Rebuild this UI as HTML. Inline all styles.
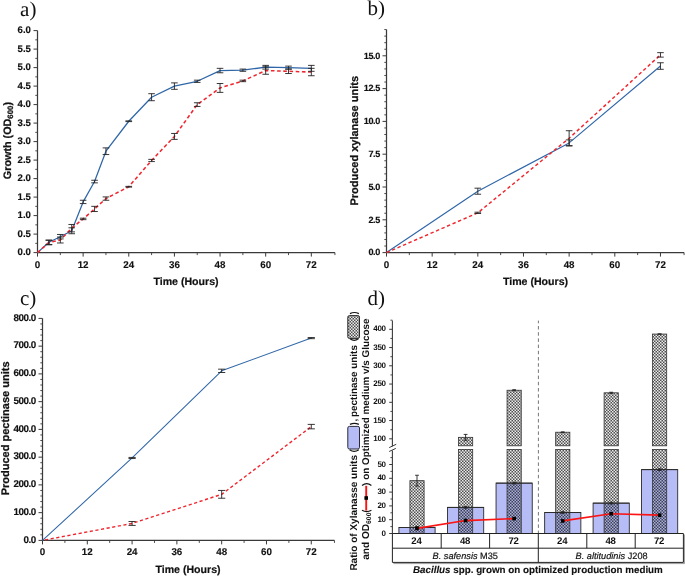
<!DOCTYPE html><html><head><meta charset="utf-8"><style>html,body{margin:0;padding:0;background:#fff;overflow:hidden;}svg{display:block;will-change:transform;text-rendering:geometricPrecision;}</style></head><body>
<svg width="685" height="576" viewBox="0 0 685 576">
<rect width="685" height="576" fill="#fff"/>
<text x="20.10" y="16.00" font-family='"Liberation Serif", serif' font-size="21" font-weight="normal" text-anchor="start" fill="#111" style="" >a)</text>
<text x="367.60" y="14.60" font-family='"Liberation Serif", serif' font-size="21" font-weight="normal" text-anchor="start" fill="#111" style="" >b)</text>
<text x="20.00" y="305.00" font-family='"Liberation Serif", serif' font-size="21" font-weight="normal" text-anchor="start" fill="#111" style="" >c)</text>
<text x="367.40" y="305.00" font-family='"Liberation Serif", serif' font-size="21" font-weight="normal" text-anchor="start" fill="#111" style="" >d)</text>
<line x1="37.50" y1="30.60" x2="37.50" y2="253.20" stroke="#3a3a3a" stroke-width="1.25" />
<line x1="36.90" y1="252.60" x2="334.93" y2="252.60" stroke="#3a3a3a" stroke-width="1.25" />
<line x1="33.50" y1="252.60" x2="37.50" y2="252.60" stroke="#3a3a3a" stroke-width="1.0" />
<text transform="translate(30.90,255.00) scale(1,1.0)" font-family='"Liberation Sans", sans-serif' font-size="9.6" font-weight="bold" text-anchor="end" fill="#111" stroke="#111" stroke-width="0.15" letter-spacing="0">0.0</text>
<line x1="35.30" y1="243.35" x2="37.50" y2="243.35" stroke="#3a3a3a" stroke-width="0.9" />
<line x1="33.50" y1="234.10" x2="37.50" y2="234.10" stroke="#3a3a3a" stroke-width="1.0" />
<text transform="translate(30.90,236.50) scale(1,1.0)" font-family='"Liberation Sans", sans-serif' font-size="9.6" font-weight="bold" text-anchor="end" fill="#111" stroke="#111" stroke-width="0.15" letter-spacing="0">0.5</text>
<line x1="35.30" y1="224.85" x2="37.50" y2="224.85" stroke="#3a3a3a" stroke-width="0.9" />
<line x1="33.50" y1="215.60" x2="37.50" y2="215.60" stroke="#3a3a3a" stroke-width="1.0" />
<text transform="translate(30.90,218.00) scale(1,1.0)" font-family='"Liberation Sans", sans-serif' font-size="9.6" font-weight="bold" text-anchor="end" fill="#111" stroke="#111" stroke-width="0.15" letter-spacing="0">1.0</text>
<line x1="35.30" y1="206.35" x2="37.50" y2="206.35" stroke="#3a3a3a" stroke-width="0.9" />
<line x1="33.50" y1="197.10" x2="37.50" y2="197.10" stroke="#3a3a3a" stroke-width="1.0" />
<text transform="translate(30.90,199.50) scale(1,1.0)" font-family='"Liberation Sans", sans-serif' font-size="9.6" font-weight="bold" text-anchor="end" fill="#111" stroke="#111" stroke-width="0.15" letter-spacing="0">1.5</text>
<line x1="35.30" y1="187.85" x2="37.50" y2="187.85" stroke="#3a3a3a" stroke-width="0.9" />
<line x1="33.50" y1="178.60" x2="37.50" y2="178.60" stroke="#3a3a3a" stroke-width="1.0" />
<text transform="translate(30.90,181.00) scale(1,1.0)" font-family='"Liberation Sans", sans-serif' font-size="9.6" font-weight="bold" text-anchor="end" fill="#111" stroke="#111" stroke-width="0.15" letter-spacing="0">2.0</text>
<line x1="35.30" y1="169.35" x2="37.50" y2="169.35" stroke="#3a3a3a" stroke-width="0.9" />
<line x1="33.50" y1="160.10" x2="37.50" y2="160.10" stroke="#3a3a3a" stroke-width="1.0" />
<text transform="translate(30.90,162.50) scale(1,1.0)" font-family='"Liberation Sans", sans-serif' font-size="9.6" font-weight="bold" text-anchor="end" fill="#111" stroke="#111" stroke-width="0.15" letter-spacing="0">2.5</text>
<line x1="35.30" y1="150.85" x2="37.50" y2="150.85" stroke="#3a3a3a" stroke-width="0.9" />
<line x1="33.50" y1="141.60" x2="37.50" y2="141.60" stroke="#3a3a3a" stroke-width="1.0" />
<text transform="translate(30.90,144.00) scale(1,1.0)" font-family='"Liberation Sans", sans-serif' font-size="9.6" font-weight="bold" text-anchor="end" fill="#111" stroke="#111" stroke-width="0.15" letter-spacing="0">3.0</text>
<line x1="35.30" y1="132.35" x2="37.50" y2="132.35" stroke="#3a3a3a" stroke-width="0.9" />
<line x1="33.50" y1="123.10" x2="37.50" y2="123.10" stroke="#3a3a3a" stroke-width="1.0" />
<text transform="translate(30.90,125.50) scale(1,1.0)" font-family='"Liberation Sans", sans-serif' font-size="9.6" font-weight="bold" text-anchor="end" fill="#111" stroke="#111" stroke-width="0.15" letter-spacing="0">3.5</text>
<line x1="35.30" y1="113.85" x2="37.50" y2="113.85" stroke="#3a3a3a" stroke-width="0.9" />
<line x1="33.50" y1="104.60" x2="37.50" y2="104.60" stroke="#3a3a3a" stroke-width="1.0" />
<text transform="translate(30.90,107.00) scale(1,1.0)" font-family='"Liberation Sans", sans-serif' font-size="9.6" font-weight="bold" text-anchor="end" fill="#111" stroke="#111" stroke-width="0.15" letter-spacing="0">4.0</text>
<line x1="35.30" y1="95.35" x2="37.50" y2="95.35" stroke="#3a3a3a" stroke-width="0.9" />
<line x1="33.50" y1="86.10" x2="37.50" y2="86.10" stroke="#3a3a3a" stroke-width="1.0" />
<text transform="translate(30.90,88.50) scale(1,1.0)" font-family='"Liberation Sans", sans-serif' font-size="9.6" font-weight="bold" text-anchor="end" fill="#111" stroke="#111" stroke-width="0.15" letter-spacing="0">4.5</text>
<line x1="35.30" y1="76.85" x2="37.50" y2="76.85" stroke="#3a3a3a" stroke-width="0.9" />
<line x1="33.50" y1="67.60" x2="37.50" y2="67.60" stroke="#3a3a3a" stroke-width="1.0" />
<text transform="translate(30.90,70.00) scale(1,1.0)" font-family='"Liberation Sans", sans-serif' font-size="9.6" font-weight="bold" text-anchor="end" fill="#111" stroke="#111" stroke-width="0.15" letter-spacing="0">5.0</text>
<line x1="35.30" y1="58.35" x2="37.50" y2="58.35" stroke="#3a3a3a" stroke-width="0.9" />
<line x1="33.50" y1="49.10" x2="37.50" y2="49.10" stroke="#3a3a3a" stroke-width="1.0" />
<text transform="translate(30.90,51.50) scale(1,1.0)" font-family='"Liberation Sans", sans-serif' font-size="9.6" font-weight="bold" text-anchor="end" fill="#111" stroke="#111" stroke-width="0.15" letter-spacing="0">5.5</text>
<line x1="35.30" y1="39.85" x2="37.50" y2="39.85" stroke="#3a3a3a" stroke-width="0.9" />
<line x1="33.50" y1="30.60" x2="37.50" y2="30.60" stroke="#3a3a3a" stroke-width="1.0" />
<text transform="translate(30.90,33.00) scale(1,1.0)" font-family='"Liberation Sans", sans-serif' font-size="9.6" font-weight="bold" text-anchor="end" fill="#111" stroke="#111" stroke-width="0.15" letter-spacing="0">6.0</text>
<line x1="37.50" y1="252.60" x2="37.50" y2="256.60" stroke="#3a3a3a" stroke-width="1.0" />
<text x="37.50" y="267.60" font-family='"Liberation Sans", sans-serif' font-size="9.8" font-weight="bold" text-anchor="middle" fill="#111" style="" stroke="#111" stroke-width="0.12">0</text>
<line x1="60.32" y1="252.60" x2="60.32" y2="255.10" stroke="#3a3a3a" stroke-width="0.9" />
<line x1="83.14" y1="252.60" x2="83.14" y2="256.60" stroke="#3a3a3a" stroke-width="1.0" />
<text x="83.14" y="267.60" font-family='"Liberation Sans", sans-serif' font-size="9.8" font-weight="bold" text-anchor="middle" fill="#111" style="" stroke="#111" stroke-width="0.12">12</text>
<line x1="105.95" y1="252.60" x2="105.95" y2="255.10" stroke="#3a3a3a" stroke-width="0.9" />
<line x1="128.77" y1="252.60" x2="128.77" y2="256.60" stroke="#3a3a3a" stroke-width="1.0" />
<text x="128.77" y="267.60" font-family='"Liberation Sans", sans-serif' font-size="9.8" font-weight="bold" text-anchor="middle" fill="#111" style="" stroke="#111" stroke-width="0.12">24</text>
<line x1="151.59" y1="252.60" x2="151.59" y2="255.10" stroke="#3a3a3a" stroke-width="0.9" />
<line x1="174.41" y1="252.60" x2="174.41" y2="256.60" stroke="#3a3a3a" stroke-width="1.0" />
<text x="174.41" y="267.60" font-family='"Liberation Sans", sans-serif' font-size="9.8" font-weight="bold" text-anchor="middle" fill="#111" style="" stroke="#111" stroke-width="0.12">36</text>
<line x1="197.23" y1="252.60" x2="197.23" y2="255.10" stroke="#3a3a3a" stroke-width="0.9" />
<line x1="220.04" y1="252.60" x2="220.04" y2="256.60" stroke="#3a3a3a" stroke-width="1.0" />
<text x="220.04" y="267.60" font-family='"Liberation Sans", sans-serif' font-size="9.8" font-weight="bold" text-anchor="middle" fill="#111" style="" stroke="#111" stroke-width="0.12">48</text>
<line x1="242.86" y1="252.60" x2="242.86" y2="255.10" stroke="#3a3a3a" stroke-width="0.9" />
<line x1="265.68" y1="252.60" x2="265.68" y2="256.60" stroke="#3a3a3a" stroke-width="1.0" />
<text x="265.68" y="267.60" font-family='"Liberation Sans", sans-serif' font-size="9.8" font-weight="bold" text-anchor="middle" fill="#111" style="" stroke="#111" stroke-width="0.12">60</text>
<line x1="288.50" y1="252.60" x2="288.50" y2="255.10" stroke="#3a3a3a" stroke-width="0.9" />
<line x1="311.32" y1="252.60" x2="311.32" y2="256.60" stroke="#3a3a3a" stroke-width="1.0" />
<text x="311.32" y="267.60" font-family='"Liberation Sans", sans-serif' font-size="9.8" font-weight="bold" text-anchor="middle" fill="#111" style="" stroke="#111" stroke-width="0.12">72</text>
<line x1="334.93" y1="252.60" x2="334.93" y2="255.10" stroke="#3a3a3a" stroke-width="0.9" />
<text x="186.00" y="285.00" font-family='"Liberation Sans", sans-serif' font-size="10.6" font-weight="bold" text-anchor="middle" fill="#111" style="" stroke="#111" stroke-width="0.2">Time (Hours)</text>
<polyline points="37.50,252.60 48.91,242.24 60.32,236.69 71.73,230.77 83.14,201.91 94.55,181.56 105.95,151.22 128.77,121.25 151.59,97.20 174.41,86.10 197.23,81.29 220.04,70.56 242.86,70.19 265.68,67.23 288.50,67.60 311.32,68.34" fill="none" stroke="#2f66a8" stroke-width="1.25" stroke-linejoin="round"/>
<polyline points="37.50,252.60 48.91,242.61 60.32,240.02 71.73,228.18 83.14,218.93 94.55,208.94 105.95,198.58 128.77,186.74 151.59,160.47 174.41,136.42 197.23,104.60 220.04,87.95 242.86,80.92 265.68,70.56 288.50,71.30 311.32,72.04" fill="none" stroke="#f0262e" stroke-width="1.55" stroke-linejoin="round" stroke-dasharray="3.6 2.6" stroke-dashoffset="0"/>
<path d="M45.61,240.39H52.21M48.91,240.39V244.83M45.61,244.83H52.21" stroke="#222" stroke-width="0.9" fill="none"/>
<path d="M57.02,237.06H63.62M60.32,237.06V242.98M57.02,242.98H63.62" stroke="#222" stroke-width="0.9" fill="none"/>
<path d="M68.43,224.48H75.03M71.73,224.48V231.88M68.43,231.88H75.03" stroke="#222" stroke-width="0.9" fill="none"/>
<path d="M79.84,218.19H86.44M83.14,218.19V219.67M79.84,219.67H86.44" stroke="#222" stroke-width="0.9" fill="none"/>
<path d="M91.25,206.35H97.84M94.55,206.35V211.53M91.25,211.53H97.84" stroke="#222" stroke-width="0.9" fill="none"/>
<path d="M102.65,196.91H109.25M105.95,196.91V200.25M102.65,200.25H109.25" stroke="#222" stroke-width="0.9" fill="none"/>
<path d="M125.47,186.37H132.07M128.77,186.37V187.11M125.47,187.11H132.07" stroke="#222" stroke-width="0.9" fill="none"/>
<path d="M148.29,159.36H154.89M151.59,159.36V161.58M148.29,161.58H154.89" stroke="#222" stroke-width="0.9" fill="none"/>
<path d="M171.11,133.46H177.71M174.41,133.46V139.38M171.11,139.38H177.71" stroke="#222" stroke-width="0.9" fill="none"/>
<path d="M193.93,102.75H200.53M197.23,102.75V106.45M193.93,106.45H200.53" stroke="#222" stroke-width="0.9" fill="none"/>
<path d="M216.74,83.51H223.34M220.04,83.51V92.39M216.74,92.39H223.34" stroke="#222" stroke-width="0.9" fill="none"/>
<path d="M239.56,80.18H246.16M242.86,80.18V81.66M239.56,81.66H246.16" stroke="#222" stroke-width="0.9" fill="none"/>
<path d="M262.38,66.86H268.98M265.68,66.86V74.26M262.38,74.26H268.98" stroke="#222" stroke-width="0.9" fill="none"/>
<path d="M285.20,69.08H291.80M288.50,69.08V73.52M285.20,73.52H291.80" stroke="#222" stroke-width="0.9" fill="none"/>
<path d="M308.02,68.34H314.62M311.32,68.34V75.74M308.02,75.74H314.62" stroke="#222" stroke-width="0.9" fill="none"/>
<path d="M45.61,240.02H52.21M48.91,240.02V244.46M45.61,244.46H52.21" stroke="#222" stroke-width="0.9" fill="none"/>
<path d="M57.02,234.47H63.62M60.32,234.47V238.91M57.02,238.91H63.62" stroke="#222" stroke-width="0.9" fill="none"/>
<path d="M68.43,227.81H75.03M71.73,227.81V233.73M68.43,233.73H75.03" stroke="#222" stroke-width="0.9" fill="none"/>
<path d="M79.84,200.25H86.44M83.14,200.25V203.57M79.84,203.57H86.44" stroke="#222" stroke-width="0.9" fill="none"/>
<path d="M91.25,180.26H97.84M94.55,180.26V182.85M91.25,182.85H97.84" stroke="#222" stroke-width="0.9" fill="none"/>
<path d="M102.65,147.89H109.25M105.95,147.89V154.55M102.65,154.55H109.25" stroke="#222" stroke-width="0.9" fill="none"/>
<path d="M125.47,120.88H132.07M128.77,120.88V121.62M125.47,121.62H132.07" stroke="#222" stroke-width="0.9" fill="none"/>
<path d="M148.29,93.69H154.89M151.59,93.69V100.71M148.29,100.71H154.89" stroke="#222" stroke-width="0.9" fill="none"/>
<path d="M171.11,82.88H177.71M174.41,82.88V89.32M171.11,89.32H177.71" stroke="#222" stroke-width="0.9" fill="none"/>
<path d="M193.93,80.18H200.53M197.23,80.18V82.40M193.93,82.40H200.53" stroke="#222" stroke-width="0.9" fill="none"/>
<path d="M216.74,68.34H223.34M220.04,68.34V72.78M216.74,72.78H223.34" stroke="#222" stroke-width="0.9" fill="none"/>
<path d="M239.56,69.08H246.16M242.86,69.08V71.30M239.56,71.30H246.16" stroke="#222" stroke-width="0.9" fill="none"/>
<path d="M262.38,65.38H268.98M265.68,65.38V69.08M262.38,69.08H268.98" stroke="#222" stroke-width="0.9" fill="none"/>
<path d="M285.20,66.12H291.80M288.50,66.12V69.08M285.20,69.08H291.80" stroke="#222" stroke-width="0.9" fill="none"/>
<path d="M308.02,65.38H314.62M311.32,65.38V71.30M308.02,71.30H314.62" stroke="#222" stroke-width="0.9" fill="none"/>
<text transform="translate(11.0,140.6) rotate(-90)" font-family='"Liberation Sans", sans-serif' font-size="10.8" font-weight="bold" text-anchor="middle" fill="#111" stroke="#111" stroke-width="0.25">Growth (OD<tspan font-size="7.8" dy="2.4">600</tspan><tspan dy="-2.5">)</tspan></text>
<line x1="386.50" y1="29.56" x2="386.50" y2="253.20" stroke="#3a3a3a" stroke-width="1.25" />
<line x1="385.90" y1="252.60" x2="684.09" y2="252.60" stroke="#3a3a3a" stroke-width="1.25" />
<line x1="382.50" y1="252.60" x2="386.50" y2="252.60" stroke="#3a3a3a" stroke-width="1.0" />
<text transform="translate(380.00,255.30) scale(1,1.0)" font-family='"Liberation Sans", sans-serif' font-size="9.1" font-weight="bold" text-anchor="end" fill="#111" stroke="#111" stroke-width="0.15" letter-spacing="-0.35">0.0</text>
<line x1="384.30" y1="246.04" x2="386.50" y2="246.04" stroke="#3a3a3a" stroke-width="0.9" />
<line x1="384.30" y1="239.48" x2="386.50" y2="239.48" stroke="#3a3a3a" stroke-width="0.9" />
<line x1="384.30" y1="232.92" x2="386.50" y2="232.92" stroke="#3a3a3a" stroke-width="0.9" />
<line x1="384.30" y1="226.36" x2="386.50" y2="226.36" stroke="#3a3a3a" stroke-width="0.9" />
<line x1="382.50" y1="219.80" x2="386.50" y2="219.80" stroke="#3a3a3a" stroke-width="1.0" />
<text transform="translate(380.00,222.50) scale(1,1.0)" font-family='"Liberation Sans", sans-serif' font-size="9.1" font-weight="bold" text-anchor="end" fill="#111" stroke="#111" stroke-width="0.15" letter-spacing="-0.35">2.5</text>
<line x1="384.30" y1="213.24" x2="386.50" y2="213.24" stroke="#3a3a3a" stroke-width="0.9" />
<line x1="384.30" y1="206.68" x2="386.50" y2="206.68" stroke="#3a3a3a" stroke-width="0.9" />
<line x1="384.30" y1="200.12" x2="386.50" y2="200.12" stroke="#3a3a3a" stroke-width="0.9" />
<line x1="384.30" y1="193.56" x2="386.50" y2="193.56" stroke="#3a3a3a" stroke-width="0.9" />
<line x1="382.50" y1="187.00" x2="386.50" y2="187.00" stroke="#3a3a3a" stroke-width="1.0" />
<text transform="translate(380.00,189.70) scale(1,1.0)" font-family='"Liberation Sans", sans-serif' font-size="9.1" font-weight="bold" text-anchor="end" fill="#111" stroke="#111" stroke-width="0.15" letter-spacing="-0.35">5.0</text>
<line x1="384.30" y1="180.44" x2="386.50" y2="180.44" stroke="#3a3a3a" stroke-width="0.9" />
<line x1="384.30" y1="173.88" x2="386.50" y2="173.88" stroke="#3a3a3a" stroke-width="0.9" />
<line x1="384.30" y1="167.32" x2="386.50" y2="167.32" stroke="#3a3a3a" stroke-width="0.9" />
<line x1="384.30" y1="160.76" x2="386.50" y2="160.76" stroke="#3a3a3a" stroke-width="0.9" />
<line x1="382.50" y1="154.20" x2="386.50" y2="154.20" stroke="#3a3a3a" stroke-width="1.0" />
<text transform="translate(380.00,156.90) scale(1,1.0)" font-family='"Liberation Sans", sans-serif' font-size="9.1" font-weight="bold" text-anchor="end" fill="#111" stroke="#111" stroke-width="0.15" letter-spacing="-0.35">7.5</text>
<line x1="384.30" y1="147.64" x2="386.50" y2="147.64" stroke="#3a3a3a" stroke-width="0.9" />
<line x1="384.30" y1="141.08" x2="386.50" y2="141.08" stroke="#3a3a3a" stroke-width="0.9" />
<line x1="384.30" y1="134.52" x2="386.50" y2="134.52" stroke="#3a3a3a" stroke-width="0.9" />
<line x1="384.30" y1="127.96" x2="386.50" y2="127.96" stroke="#3a3a3a" stroke-width="0.9" />
<line x1="382.50" y1="121.40" x2="386.50" y2="121.40" stroke="#3a3a3a" stroke-width="1.0" />
<text transform="translate(380.00,124.10) scale(1,1.0)" font-family='"Liberation Sans", sans-serif' font-size="9.1" font-weight="bold" text-anchor="end" fill="#111" stroke="#111" stroke-width="0.15" letter-spacing="-0.35">10.0</text>
<line x1="384.30" y1="114.84" x2="386.50" y2="114.84" stroke="#3a3a3a" stroke-width="0.9" />
<line x1="384.30" y1="108.28" x2="386.50" y2="108.28" stroke="#3a3a3a" stroke-width="0.9" />
<line x1="384.30" y1="101.72" x2="386.50" y2="101.72" stroke="#3a3a3a" stroke-width="0.9" />
<line x1="384.30" y1="95.16" x2="386.50" y2="95.16" stroke="#3a3a3a" stroke-width="0.9" />
<line x1="382.50" y1="88.60" x2="386.50" y2="88.60" stroke="#3a3a3a" stroke-width="1.0" />
<text transform="translate(380.00,91.30) scale(1,1.0)" font-family='"Liberation Sans", sans-serif' font-size="9.1" font-weight="bold" text-anchor="end" fill="#111" stroke="#111" stroke-width="0.15" letter-spacing="-0.35">12.5</text>
<line x1="384.30" y1="82.04" x2="386.50" y2="82.04" stroke="#3a3a3a" stroke-width="0.9" />
<line x1="384.30" y1="75.48" x2="386.50" y2="75.48" stroke="#3a3a3a" stroke-width="0.9" />
<line x1="384.30" y1="68.92" x2="386.50" y2="68.92" stroke="#3a3a3a" stroke-width="0.9" />
<line x1="384.30" y1="62.36" x2="386.50" y2="62.36" stroke="#3a3a3a" stroke-width="0.9" />
<line x1="382.50" y1="55.80" x2="386.50" y2="55.80" stroke="#3a3a3a" stroke-width="1.0" />
<text transform="translate(380.00,58.50) scale(1,1.0)" font-family='"Liberation Sans", sans-serif' font-size="9.1" font-weight="bold" text-anchor="end" fill="#111" stroke="#111" stroke-width="0.15" letter-spacing="-0.35">15.0</text>
<line x1="384.30" y1="49.24" x2="386.50" y2="49.24" stroke="#3a3a3a" stroke-width="0.9" />
<line x1="384.30" y1="42.68" x2="386.50" y2="42.68" stroke="#3a3a3a" stroke-width="0.9" />
<line x1="384.30" y1="36.12" x2="386.50" y2="36.12" stroke="#3a3a3a" stroke-width="0.9" />
<line x1="384.30" y1="29.56" x2="386.50" y2="29.56" stroke="#3a3a3a" stroke-width="0.9" />
<line x1="386.50" y1="252.60" x2="386.50" y2="256.60" stroke="#3a3a3a" stroke-width="1.0" />
<text x="386.50" y="267.60" font-family='"Liberation Sans", sans-serif' font-size="9.8" font-weight="bold" text-anchor="middle" fill="#111" style="" stroke="#111" stroke-width="0.12">0</text>
<line x1="409.33" y1="252.60" x2="409.33" y2="255.10" stroke="#3a3a3a" stroke-width="0.9" />
<line x1="432.16" y1="252.60" x2="432.16" y2="256.60" stroke="#3a3a3a" stroke-width="1.0" />
<text x="432.16" y="267.60" font-family='"Liberation Sans", sans-serif' font-size="9.8" font-weight="bold" text-anchor="middle" fill="#111" style="" stroke="#111" stroke-width="0.12">12</text>
<line x1="454.99" y1="252.60" x2="454.99" y2="255.10" stroke="#3a3a3a" stroke-width="0.9" />
<line x1="477.82" y1="252.60" x2="477.82" y2="256.60" stroke="#3a3a3a" stroke-width="1.0" />
<text x="477.82" y="267.60" font-family='"Liberation Sans", sans-serif' font-size="9.8" font-weight="bold" text-anchor="middle" fill="#111" style="" stroke="#111" stroke-width="0.12">24</text>
<line x1="500.65" y1="252.60" x2="500.65" y2="255.10" stroke="#3a3a3a" stroke-width="0.9" />
<line x1="523.48" y1="252.60" x2="523.48" y2="256.60" stroke="#3a3a3a" stroke-width="1.0" />
<text x="523.48" y="267.60" font-family='"Liberation Sans", sans-serif' font-size="9.8" font-weight="bold" text-anchor="middle" fill="#111" style="" stroke="#111" stroke-width="0.12">36</text>
<line x1="546.31" y1="252.60" x2="546.31" y2="255.10" stroke="#3a3a3a" stroke-width="0.9" />
<line x1="569.14" y1="252.60" x2="569.14" y2="256.60" stroke="#3a3a3a" stroke-width="1.0" />
<text x="569.14" y="267.60" font-family='"Liberation Sans", sans-serif' font-size="9.8" font-weight="bold" text-anchor="middle" fill="#111" style="" stroke="#111" stroke-width="0.12">48</text>
<line x1="591.97" y1="252.60" x2="591.97" y2="255.10" stroke="#3a3a3a" stroke-width="0.9" />
<line x1="614.80" y1="252.60" x2="614.80" y2="256.60" stroke="#3a3a3a" stroke-width="1.0" />
<text x="614.80" y="267.60" font-family='"Liberation Sans", sans-serif' font-size="9.8" font-weight="bold" text-anchor="middle" fill="#111" style="" stroke="#111" stroke-width="0.12">60</text>
<line x1="637.63" y1="252.60" x2="637.63" y2="255.10" stroke="#3a3a3a" stroke-width="0.9" />
<line x1="660.46" y1="252.60" x2="660.46" y2="256.60" stroke="#3a3a3a" stroke-width="1.0" />
<text x="660.46" y="267.60" font-family='"Liberation Sans", sans-serif' font-size="9.8" font-weight="bold" text-anchor="middle" fill="#111" style="" stroke="#111" stroke-width="0.12">72</text>
<line x1="684.09" y1="252.60" x2="684.09" y2="255.10" stroke="#3a3a3a" stroke-width="0.9" />
<text x="535.50" y="285.00" font-family='"Liberation Sans", sans-serif' font-size="10.6" font-weight="bold" text-anchor="middle" fill="#111" style="" stroke="#111" stroke-width="0.2">Time (Hours)</text>
<polyline points="386.50,252.60 477.82,191.20 569.14,142.92 660.46,66.03" fill="none" stroke="#2f66a8" stroke-width="1.15" stroke-linejoin="round"/>
<polyline points="386.50,252.60 477.82,212.85 569.14,138.19 660.46,54.88" fill="none" stroke="#f0262e" stroke-width="1.45" stroke-linejoin="round" stroke-dasharray="3.4 2.6" stroke-dashoffset="0"/>
<path d="M474.52,212.19H481.12M477.82,212.19V213.50M474.52,213.50H481.12" stroke="#222" stroke-width="0.9" fill="none"/>
<path d="M565.84,130.72H572.44M569.14,130.72V145.67M565.84,145.67H572.44" stroke="#222" stroke-width="0.9" fill="none"/>
<path d="M657.16,52.65H663.76M660.46,52.65V57.11M657.16,57.11H663.76" stroke="#222" stroke-width="0.9" fill="none"/>
<path d="M474.52,188.18H481.12M477.82,188.18V194.22M474.52,194.22H481.12" stroke="#222" stroke-width="0.9" fill="none"/>
<path d="M565.84,139.90H572.44M569.14,139.90V145.93M565.84,145.93H572.44" stroke="#222" stroke-width="0.9" fill="none"/>
<path d="M657.16,62.75H663.76M660.46,62.75V69.31M657.16,69.31H663.76" stroke="#222" stroke-width="0.9" fill="none"/>
<text transform="translate(358.2,140.8) rotate(-90)" font-family='"Liberation Sans", sans-serif' font-size="11.0" font-weight="bold" text-anchor="middle" fill="#111" stroke="#111" stroke-width="0.25">Produced xylanase units</text>
<line x1="42.50" y1="318.40" x2="42.50" y2="541.00" stroke="#3a3a3a" stroke-width="1.25" />
<line x1="41.90" y1="540.40" x2="334.47" y2="540.40" stroke="#3a3a3a" stroke-width="1.25" />
<line x1="38.50" y1="540.40" x2="42.50" y2="540.40" stroke="#3a3a3a" stroke-width="1.0" />
<text transform="translate(35.60,542.60) scale(1,1.0)" font-family='"Liberation Sans", sans-serif' font-size="9.8" font-weight="bold" text-anchor="end" fill="#111" stroke="#111" stroke-width="0.15" letter-spacing="-0.5">0.0</text>
<line x1="40.30" y1="534.85" x2="42.50" y2="534.85" stroke="#3a3a3a" stroke-width="0.9" />
<line x1="40.30" y1="529.30" x2="42.50" y2="529.30" stroke="#3a3a3a" stroke-width="0.9" />
<line x1="40.30" y1="523.75" x2="42.50" y2="523.75" stroke="#3a3a3a" stroke-width="0.9" />
<line x1="40.30" y1="518.20" x2="42.50" y2="518.20" stroke="#3a3a3a" stroke-width="0.9" />
<line x1="38.50" y1="512.65" x2="42.50" y2="512.65" stroke="#3a3a3a" stroke-width="1.0" />
<text transform="translate(35.60,514.85) scale(1,1.0)" font-family='"Liberation Sans", sans-serif' font-size="9.8" font-weight="bold" text-anchor="end" fill="#111" stroke="#111" stroke-width="0.15" letter-spacing="-0.5">100.0</text>
<line x1="40.30" y1="507.10" x2="42.50" y2="507.10" stroke="#3a3a3a" stroke-width="0.9" />
<line x1="40.30" y1="501.55" x2="42.50" y2="501.55" stroke="#3a3a3a" stroke-width="0.9" />
<line x1="40.30" y1="496.00" x2="42.50" y2="496.00" stroke="#3a3a3a" stroke-width="0.9" />
<line x1="40.30" y1="490.45" x2="42.50" y2="490.45" stroke="#3a3a3a" stroke-width="0.9" />
<line x1="38.50" y1="484.90" x2="42.50" y2="484.90" stroke="#3a3a3a" stroke-width="1.0" />
<text transform="translate(35.60,487.10) scale(1,1.0)" font-family='"Liberation Sans", sans-serif' font-size="9.8" font-weight="bold" text-anchor="end" fill="#111" stroke="#111" stroke-width="0.15" letter-spacing="-0.5">200.0</text>
<line x1="40.30" y1="479.35" x2="42.50" y2="479.35" stroke="#3a3a3a" stroke-width="0.9" />
<line x1="40.30" y1="473.80" x2="42.50" y2="473.80" stroke="#3a3a3a" stroke-width="0.9" />
<line x1="40.30" y1="468.25" x2="42.50" y2="468.25" stroke="#3a3a3a" stroke-width="0.9" />
<line x1="40.30" y1="462.70" x2="42.50" y2="462.70" stroke="#3a3a3a" stroke-width="0.9" />
<line x1="38.50" y1="457.15" x2="42.50" y2="457.15" stroke="#3a3a3a" stroke-width="1.0" />
<text transform="translate(35.60,459.35) scale(1,1.0)" font-family='"Liberation Sans", sans-serif' font-size="9.8" font-weight="bold" text-anchor="end" fill="#111" stroke="#111" stroke-width="0.15" letter-spacing="-0.5">300.0</text>
<line x1="40.30" y1="451.60" x2="42.50" y2="451.60" stroke="#3a3a3a" stroke-width="0.9" />
<line x1="40.30" y1="446.05" x2="42.50" y2="446.05" stroke="#3a3a3a" stroke-width="0.9" />
<line x1="40.30" y1="440.50" x2="42.50" y2="440.50" stroke="#3a3a3a" stroke-width="0.9" />
<line x1="40.30" y1="434.95" x2="42.50" y2="434.95" stroke="#3a3a3a" stroke-width="0.9" />
<line x1="38.50" y1="429.40" x2="42.50" y2="429.40" stroke="#3a3a3a" stroke-width="1.0" />
<text transform="translate(35.60,431.60) scale(1,1.0)" font-family='"Liberation Sans", sans-serif' font-size="9.8" font-weight="bold" text-anchor="end" fill="#111" stroke="#111" stroke-width="0.15" letter-spacing="-0.5">400.0</text>
<line x1="40.30" y1="423.85" x2="42.50" y2="423.85" stroke="#3a3a3a" stroke-width="0.9" />
<line x1="40.30" y1="418.30" x2="42.50" y2="418.30" stroke="#3a3a3a" stroke-width="0.9" />
<line x1="40.30" y1="412.75" x2="42.50" y2="412.75" stroke="#3a3a3a" stroke-width="0.9" />
<line x1="40.30" y1="407.20" x2="42.50" y2="407.20" stroke="#3a3a3a" stroke-width="0.9" />
<line x1="38.50" y1="401.65" x2="42.50" y2="401.65" stroke="#3a3a3a" stroke-width="1.0" />
<text transform="translate(35.60,403.85) scale(1,1.0)" font-family='"Liberation Sans", sans-serif' font-size="9.8" font-weight="bold" text-anchor="end" fill="#111" stroke="#111" stroke-width="0.15" letter-spacing="-0.5">500.0</text>
<line x1="40.30" y1="396.10" x2="42.50" y2="396.10" stroke="#3a3a3a" stroke-width="0.9" />
<line x1="40.30" y1="390.55" x2="42.50" y2="390.55" stroke="#3a3a3a" stroke-width="0.9" />
<line x1="40.30" y1="385.00" x2="42.50" y2="385.00" stroke="#3a3a3a" stroke-width="0.9" />
<line x1="40.30" y1="379.45" x2="42.50" y2="379.45" stroke="#3a3a3a" stroke-width="0.9" />
<line x1="38.50" y1="373.90" x2="42.50" y2="373.90" stroke="#3a3a3a" stroke-width="1.0" />
<text transform="translate(35.60,376.10) scale(1,1.0)" font-family='"Liberation Sans", sans-serif' font-size="9.8" font-weight="bold" text-anchor="end" fill="#111" stroke="#111" stroke-width="0.15" letter-spacing="-0.5">600.0</text>
<line x1="40.30" y1="368.35" x2="42.50" y2="368.35" stroke="#3a3a3a" stroke-width="0.9" />
<line x1="40.30" y1="362.80" x2="42.50" y2="362.80" stroke="#3a3a3a" stroke-width="0.9" />
<line x1="40.30" y1="357.25" x2="42.50" y2="357.25" stroke="#3a3a3a" stroke-width="0.9" />
<line x1="40.30" y1="351.70" x2="42.50" y2="351.70" stroke="#3a3a3a" stroke-width="0.9" />
<line x1="38.50" y1="346.15" x2="42.50" y2="346.15" stroke="#3a3a3a" stroke-width="1.0" />
<text transform="translate(35.60,348.35) scale(1,1.0)" font-family='"Liberation Sans", sans-serif' font-size="9.8" font-weight="bold" text-anchor="end" fill="#111" stroke="#111" stroke-width="0.15" letter-spacing="-0.5">700.0</text>
<line x1="40.30" y1="340.60" x2="42.50" y2="340.60" stroke="#3a3a3a" stroke-width="0.9" />
<line x1="40.30" y1="335.05" x2="42.50" y2="335.05" stroke="#3a3a3a" stroke-width="0.9" />
<line x1="40.30" y1="329.50" x2="42.50" y2="329.50" stroke="#3a3a3a" stroke-width="0.9" />
<line x1="40.30" y1="323.95" x2="42.50" y2="323.95" stroke="#3a3a3a" stroke-width="0.9" />
<line x1="38.50" y1="318.40" x2="42.50" y2="318.40" stroke="#3a3a3a" stroke-width="1.0" />
<text transform="translate(35.60,320.60) scale(1,1.0)" font-family='"Liberation Sans", sans-serif' font-size="9.8" font-weight="bold" text-anchor="end" fill="#111" stroke="#111" stroke-width="0.15" letter-spacing="-0.5">800.0</text>
<line x1="42.50" y1="540.40" x2="42.50" y2="544.40" stroke="#3a3a3a" stroke-width="1.0" />
<text x="42.50" y="555.20" font-family='"Liberation Sans", sans-serif' font-size="9.8" font-weight="bold" text-anchor="middle" fill="#111" style="" stroke="#111" stroke-width="0.12">0</text>
<line x1="64.90" y1="540.40" x2="64.90" y2="542.90" stroke="#3a3a3a" stroke-width="0.9" />
<line x1="87.30" y1="540.40" x2="87.30" y2="544.40" stroke="#3a3a3a" stroke-width="1.0" />
<text x="87.30" y="555.20" font-family='"Liberation Sans", sans-serif' font-size="9.8" font-weight="bold" text-anchor="middle" fill="#111" style="" stroke="#111" stroke-width="0.12">12</text>
<line x1="109.69" y1="540.40" x2="109.69" y2="542.90" stroke="#3a3a3a" stroke-width="0.9" />
<line x1="132.09" y1="540.40" x2="132.09" y2="544.40" stroke="#3a3a3a" stroke-width="1.0" />
<text x="132.09" y="555.20" font-family='"Liberation Sans", sans-serif' font-size="9.8" font-weight="bold" text-anchor="middle" fill="#111" style="" stroke="#111" stroke-width="0.12">24</text>
<line x1="154.49" y1="540.40" x2="154.49" y2="542.90" stroke="#3a3a3a" stroke-width="0.9" />
<line x1="176.89" y1="540.40" x2="176.89" y2="544.40" stroke="#3a3a3a" stroke-width="1.0" />
<text x="176.89" y="555.20" font-family='"Liberation Sans", sans-serif' font-size="9.8" font-weight="bold" text-anchor="middle" fill="#111" style="" stroke="#111" stroke-width="0.12">36</text>
<line x1="199.29" y1="540.40" x2="199.29" y2="542.90" stroke="#3a3a3a" stroke-width="0.9" />
<line x1="221.68" y1="540.40" x2="221.68" y2="544.40" stroke="#3a3a3a" stroke-width="1.0" />
<text x="221.68" y="555.20" font-family='"Liberation Sans", sans-serif' font-size="9.8" font-weight="bold" text-anchor="middle" fill="#111" style="" stroke="#111" stroke-width="0.12">48</text>
<line x1="244.08" y1="540.40" x2="244.08" y2="542.90" stroke="#3a3a3a" stroke-width="0.9" />
<line x1="266.48" y1="540.40" x2="266.48" y2="544.40" stroke="#3a3a3a" stroke-width="1.0" />
<text x="266.48" y="555.20" font-family='"Liberation Sans", sans-serif' font-size="9.8" font-weight="bold" text-anchor="middle" fill="#111" style="" stroke="#111" stroke-width="0.12">60</text>
<line x1="288.88" y1="540.40" x2="288.88" y2="542.90" stroke="#3a3a3a" stroke-width="0.9" />
<line x1="311.28" y1="540.40" x2="311.28" y2="544.40" stroke="#3a3a3a" stroke-width="1.0" />
<text x="311.28" y="555.20" font-family='"Liberation Sans", sans-serif' font-size="9.8" font-weight="bold" text-anchor="middle" fill="#111" style="" stroke="#111" stroke-width="0.12">72</text>
<line x1="334.47" y1="540.40" x2="334.47" y2="542.90" stroke="#3a3a3a" stroke-width="0.9" />
<text x="188.00" y="573.00" font-family='"Liberation Sans", sans-serif' font-size="10.6" font-weight="bold" text-anchor="middle" fill="#111" style="" stroke="#111" stroke-width="0.2">Time (Hours)</text>
<polyline points="42.50,540.40 132.09,457.98 221.68,370.85 311.28,338.10" fill="none" stroke="#2f66a8" stroke-width="1.05" stroke-linejoin="round"/>
<polyline points="42.50,540.40 132.09,523.47 221.68,494.33 311.28,426.62" fill="none" stroke="#f0262e" stroke-width="1.4" stroke-linejoin="round" stroke-dasharray="3.2 2.5" stroke-dashoffset="3.2"/>
<path d="M128.49,521.53H135.69M132.09,521.53V525.41M128.49,525.41H135.69" stroke="#222" stroke-width="0.9" fill="none"/>
<path d="M218.08,490.45H225.28M221.68,490.45V498.22M218.08,498.22H225.28" stroke="#222" stroke-width="0.9" fill="none"/>
<path d="M307.68,424.40H314.88M311.28,424.40V428.84M307.68,428.84H314.88" stroke="#222" stroke-width="0.9" fill="none"/>
<path d="M128.49,457.43H135.69M132.09,457.43V458.54M128.49,458.54H135.69" stroke="#222" stroke-width="0.9" fill="none"/>
<path d="M218.08,369.18H225.28M221.68,369.18V372.51M218.08,372.51H225.28" stroke="#222" stroke-width="0.9" fill="none"/>
<path d="M307.68,337.55H314.88M311.28,337.55V338.66M307.68,338.66H314.88" stroke="#222" stroke-width="0.9" fill="none"/>
<text transform="translate(9.2,428.4) rotate(-90)" font-family='"Liberation Sans", sans-serif' font-size="11.0" font-weight="bold" text-anchor="middle" fill="#111" stroke="#111" stroke-width="0.25">Produced pectinase units</text>
<defs><pattern id="chk" width="3" height="3" patternUnits="userSpaceOnUse"><rect x="1.5" y="0" width="1.5" height="1.5" fill="#222" fill-opacity="0.76"/><rect x="0" y="1.5" width="1.5" height="1.5" fill="#222" fill-opacity="0.76"/><rect x="0" y="0" width="3" height="3" fill="#000" fill-opacity="0.08"/></pattern></defs>
<line x1="538.40" y1="320.60" x2="538.40" y2="533.50" stroke="#777" stroke-width="1.0" stroke-dasharray="3.5 2.7" stroke-dashoffset="0.8"/>
<rect x="398.90" y="527.50" width="36.20" height="6.00" fill="#b6bcf6" stroke="#2a2a2a" stroke-width="0.9"/>
<rect x="447.50" y="507.42" width="36.20" height="26.08" fill="#b6bcf6" stroke="#2a2a2a" stroke-width="0.9"/>
<rect x="496.05" y="483.13" width="36.20" height="50.37" fill="#b6bcf6" stroke="#2a2a2a" stroke-width="0.9"/>
<rect x="544.65" y="512.52" width="36.20" height="20.98" fill="#b6bcf6" stroke="#2a2a2a" stroke-width="0.9"/>
<rect x="593.10" y="503.14" width="36.20" height="30.36" fill="#b6bcf6" stroke="#2a2a2a" stroke-width="0.9"/>
<rect x="641.50" y="469.61" width="36.20" height="63.89" fill="#b6bcf6" stroke="#2a2a2a" stroke-width="0.9"/>
<rect x="409.90" y="480.65" width="14.20" height="52.85" fill="url(#chk)" stroke="#333" stroke-width="0.8"/>
<path d="M415.10,475.26H418.90M417.00,475.26V486.03M415.10,486.03H418.90" stroke="#222" stroke-width="0.9" fill="none"/>
<rect x="458.50" y="437.34" width="14.20" height="8.46" fill="url(#chk)" stroke="#333" stroke-width="0.8"/>
<rect x="458.50" y="449.40" width="14.20" height="84.10" fill="url(#chk)" stroke="#333" stroke-width="0.8"/>
<path d="M463.70,434.42H467.50M465.60,434.42V440.26M463.70,440.26H467.50" stroke="#222" stroke-width="0.9" fill="none"/>
<rect x="507.05" y="390.25" width="14.20" height="55.55" fill="url(#chk)" stroke="#333" stroke-width="0.8"/>
<rect x="507.05" y="449.40" width="14.20" height="84.10" fill="url(#chk)" stroke="#333" stroke-width="0.8"/>
<path d="M512.25,389.71H516.05M514.15,389.71V390.80M512.25,390.80H516.05" stroke="#222" stroke-width="0.9" fill="none"/>
<rect x="555.65" y="432.23" width="14.20" height="13.57" fill="url(#chk)" stroke="#333" stroke-width="0.8"/>
<rect x="555.65" y="449.40" width="14.20" height="84.10" fill="url(#chk)" stroke="#333" stroke-width="0.8"/>
<path d="M560.85,431.87H564.65M562.75,431.87V432.60M560.85,432.60H564.65" stroke="#222" stroke-width="0.9" fill="none"/>
<rect x="604.10" y="392.81" width="14.20" height="52.99" fill="url(#chk)" stroke="#333" stroke-width="0.8"/>
<rect x="604.10" y="449.40" width="14.20" height="84.10" fill="url(#chk)" stroke="#333" stroke-width="0.8"/>
<path d="M609.30,392.26H613.10M611.20,392.26V393.36M609.30,393.36H613.10" stroke="#222" stroke-width="0.9" fill="none"/>
<rect x="652.50" y="334.05" width="14.20" height="111.75" fill="url(#chk)" stroke="#333" stroke-width="0.8"/>
<rect x="652.50" y="449.40" width="14.20" height="84.10" fill="url(#chk)" stroke="#333" stroke-width="0.8"/>
<path d="M657.70,333.90H661.50M659.60,333.90V334.19M657.70,334.19H661.50" stroke="#222" stroke-width="0.9" fill="none"/>
<line x1="398.90" y1="527.50" x2="435.10" y2="527.50" stroke="#2a2a2a" stroke-width="0.9" />
<line x1="447.50" y1="507.42" x2="483.70" y2="507.42" stroke="#2a2a2a" stroke-width="0.9" />
<line x1="496.05" y1="483.13" x2="532.25" y2="483.13" stroke="#2a2a2a" stroke-width="0.9" />
<line x1="544.65" y1="512.52" x2="580.85" y2="512.52" stroke="#2a2a2a" stroke-width="0.9" />
<line x1="593.10" y1="503.14" x2="629.30" y2="503.14" stroke="#2a2a2a" stroke-width="0.9" />
<line x1="641.50" y1="469.61" x2="677.70" y2="469.61" stroke="#2a2a2a" stroke-width="0.9" />
<path d="M415.10,526.67H418.90M417.00,526.67V528.33M415.10,528.33H418.90" stroke="#222" stroke-width="0.9" fill="none"/>
<path d="M463.70,506.59H467.50M465.60,506.59V508.25M463.70,508.25H467.50" stroke="#222" stroke-width="0.9" fill="none"/>
<path d="M512.25,482.30H516.05M514.15,482.30V483.96M512.25,483.96H516.05" stroke="#222" stroke-width="0.9" fill="none"/>
<path d="M560.85,511.70H564.65M562.75,511.70V513.35M560.85,513.35H564.65" stroke="#222" stroke-width="0.9" fill="none"/>
<path d="M609.30,502.31H613.10M611.20,502.31V503.97M609.30,503.97H613.10" stroke="#222" stroke-width="0.9" fill="none"/>
<path d="M657.70,468.78H661.50M659.60,468.78V470.43M657.70,470.43H661.50" stroke="#222" stroke-width="0.9" fill="none"/>
<polyline points="417.00,528.39 465.60,520.53 514.15,518.60" fill="none" stroke="#fa1414" stroke-width="1.7" stroke-linejoin="round"/>
<rect x="415.20" y="526.59" width="3.6" height="3.6" fill="#000"/>
<rect x="463.80" y="518.73" width="3.6" height="3.6" fill="#000"/>
<rect x="512.35" y="516.80" width="3.6" height="3.6" fill="#000"/>
<polyline points="562.75,520.94 611.20,513.77 659.60,515.15" fill="none" stroke="#fa1414" stroke-width="1.7" stroke-linejoin="round"/>
<rect x="560.95" y="519.14" width="3.6" height="3.6" fill="#000"/>
<rect x="609.40" y="511.97" width="3.6" height="3.6" fill="#000"/>
<rect x="657.80" y="513.35" width="3.6" height="3.6" fill="#000"/>
<line x1="392.40" y1="320.60" x2="392.40" y2="446.20" stroke="#3a3a3a" stroke-width="1.1" />
<line x1="389.20" y1="438.80" x2="392.40" y2="438.80" stroke="#3a3a3a" stroke-width="1.0" />
<text x="385.80" y="440.90" font-family='"Liberation Sans", sans-serif' font-size="8.0" font-weight="bold" text-anchor="end" fill="#111" style="" letter-spacing="-0.25">100</text>
<line x1="390.40" y1="429.68" x2="392.40" y2="429.68" stroke="#3a3a3a" stroke-width="0.9" />
<line x1="389.20" y1="420.55" x2="392.40" y2="420.55" stroke="#3a3a3a" stroke-width="1.0" />
<text x="385.80" y="422.65" font-family='"Liberation Sans", sans-serif' font-size="8.0" font-weight="bold" text-anchor="end" fill="#111" style="" letter-spacing="-0.25">150</text>
<line x1="390.40" y1="411.43" x2="392.40" y2="411.43" stroke="#3a3a3a" stroke-width="0.9" />
<line x1="389.20" y1="402.30" x2="392.40" y2="402.30" stroke="#3a3a3a" stroke-width="1.0" />
<text x="385.80" y="404.40" font-family='"Liberation Sans", sans-serif' font-size="8.0" font-weight="bold" text-anchor="end" fill="#111" style="" letter-spacing="-0.25">200</text>
<line x1="390.40" y1="393.18" x2="392.40" y2="393.18" stroke="#3a3a3a" stroke-width="0.9" />
<line x1="389.20" y1="384.05" x2="392.40" y2="384.05" stroke="#3a3a3a" stroke-width="1.0" />
<text x="385.80" y="386.15" font-family='"Liberation Sans", sans-serif' font-size="8.0" font-weight="bold" text-anchor="end" fill="#111" style="" letter-spacing="-0.25">250</text>
<line x1="390.40" y1="374.93" x2="392.40" y2="374.93" stroke="#3a3a3a" stroke-width="0.9" />
<line x1="389.20" y1="365.80" x2="392.40" y2="365.80" stroke="#3a3a3a" stroke-width="1.0" />
<text x="385.80" y="367.90" font-family='"Liberation Sans", sans-serif' font-size="8.0" font-weight="bold" text-anchor="end" fill="#111" style="" letter-spacing="-0.25">300</text>
<line x1="390.40" y1="356.68" x2="392.40" y2="356.68" stroke="#3a3a3a" stroke-width="0.9" />
<line x1="389.20" y1="347.55" x2="392.40" y2="347.55" stroke="#3a3a3a" stroke-width="1.0" />
<text x="385.80" y="349.65" font-family='"Liberation Sans", sans-serif' font-size="8.0" font-weight="bold" text-anchor="end" fill="#111" style="" letter-spacing="-0.25">350</text>
<line x1="390.40" y1="338.43" x2="392.40" y2="338.43" stroke="#3a3a3a" stroke-width="0.9" />
<line x1="389.20" y1="329.30" x2="392.40" y2="329.30" stroke="#3a3a3a" stroke-width="1.0" />
<text x="385.80" y="331.40" font-family='"Liberation Sans", sans-serif' font-size="8.0" font-weight="bold" text-anchor="end" fill="#111" style="" letter-spacing="-0.25">400</text>
<line x1="390.40" y1="320.18" x2="392.40" y2="320.18" stroke="#3a3a3a" stroke-width="0.9" />
<line x1="392.40" y1="450.40" x2="392.40" y2="533.50" stroke="#3a3a3a" stroke-width="1.1" />
<line x1="389.20" y1="533.50" x2="392.40" y2="533.50" stroke="#3a3a3a" stroke-width="1.0" />
<text x="385.80" y="535.60" font-family='"Liberation Sans", sans-serif' font-size="8.0" font-weight="bold" text-anchor="end" fill="#111" style="" letter-spacing="-0.25">0</text>
<line x1="390.40" y1="526.60" x2="392.40" y2="526.60" stroke="#3a3a3a" stroke-width="0.9" />
<line x1="389.20" y1="519.70" x2="392.40" y2="519.70" stroke="#3a3a3a" stroke-width="1.0" />
<text x="385.80" y="521.80" font-family='"Liberation Sans", sans-serif' font-size="8.0" font-weight="bold" text-anchor="end" fill="#111" style="" letter-spacing="-0.25">10</text>
<line x1="390.40" y1="512.80" x2="392.40" y2="512.80" stroke="#3a3a3a" stroke-width="0.9" />
<line x1="389.20" y1="505.90" x2="392.40" y2="505.90" stroke="#3a3a3a" stroke-width="1.0" />
<text x="385.80" y="508.00" font-family='"Liberation Sans", sans-serif' font-size="8.0" font-weight="bold" text-anchor="end" fill="#111" style="" letter-spacing="-0.25">20</text>
<line x1="390.40" y1="499.00" x2="392.40" y2="499.00" stroke="#3a3a3a" stroke-width="0.9" />
<line x1="389.20" y1="492.10" x2="392.40" y2="492.10" stroke="#3a3a3a" stroke-width="1.0" />
<text x="385.80" y="494.20" font-family='"Liberation Sans", sans-serif' font-size="8.0" font-weight="bold" text-anchor="end" fill="#111" style="" letter-spacing="-0.25">30</text>
<line x1="390.40" y1="485.20" x2="392.40" y2="485.20" stroke="#3a3a3a" stroke-width="0.9" />
<line x1="389.20" y1="478.30" x2="392.40" y2="478.30" stroke="#3a3a3a" stroke-width="1.0" />
<text x="385.80" y="480.40" font-family='"Liberation Sans", sans-serif' font-size="8.0" font-weight="bold" text-anchor="end" fill="#111" style="" letter-spacing="-0.25">40</text>
<line x1="390.40" y1="471.40" x2="392.40" y2="471.40" stroke="#3a3a3a" stroke-width="0.9" />
<line x1="389.20" y1="464.50" x2="392.40" y2="464.50" stroke="#3a3a3a" stroke-width="1.0" />
<text x="385.80" y="466.60" font-family='"Liberation Sans", sans-serif' font-size="8.0" font-weight="bold" text-anchor="end" fill="#111" style="" letter-spacing="-0.25">50</text>
<line x1="390.40" y1="457.60" x2="392.40" y2="457.60" stroke="#3a3a3a" stroke-width="0.9" />
<line x1="389.20" y1="447.60" x2="396.20" y2="444.30" stroke="#3a3a3a" stroke-width="1.0" />
<line x1="389.20" y1="451.50" x2="395.80" y2="448.40" stroke="#3a3a3a" stroke-width="1.0" />
<path d="M393.4,563.6H684.6V534.5" fill="none" stroke="#9a9a9a" stroke-width="1"/>
<path d="M392.4,533.5H683.4V562.4H392.4Z M392.4,548.2H683.4" fill="none" stroke="#222" stroke-width="1"/>
<line x1="441.20" y1="533.50" x2="441.20" y2="548.20" stroke="#222" stroke-width="1.0" />
<line x1="489.60" y1="533.50" x2="489.60" y2="548.20" stroke="#222" stroke-width="1.0" />
<line x1="538.30" y1="533.50" x2="538.30" y2="562.40" stroke="#222" stroke-width="1.0" />
<line x1="586.80" y1="533.50" x2="586.80" y2="548.20" stroke="#222" stroke-width="1.0" />
<line x1="635.20" y1="533.50" x2="635.20" y2="548.20" stroke="#222" stroke-width="1.0" />
<text x="416.40" y="544.00" font-family='"Liberation Sans", sans-serif' font-size="9.6" font-weight="bold" text-anchor="middle" fill="#111" style="" letter-spacing="-0.3">24</text>
<text x="465.00" y="544.00" font-family='"Liberation Sans", sans-serif' font-size="9.6" font-weight="bold" text-anchor="middle" fill="#111" style="" letter-spacing="-0.3">48</text>
<text x="513.55" y="544.00" font-family='"Liberation Sans", sans-serif' font-size="9.6" font-weight="bold" text-anchor="middle" fill="#111" style="" letter-spacing="-0.3">72</text>
<text x="562.15" y="544.00" font-family='"Liberation Sans", sans-serif' font-size="9.6" font-weight="bold" text-anchor="middle" fill="#111" style="" letter-spacing="-0.3">24</text>
<text x="610.60" y="544.00" font-family='"Liberation Sans", sans-serif' font-size="9.6" font-weight="bold" text-anchor="middle" fill="#111" style="" letter-spacing="-0.3">48</text>
<text x="659.00" y="544.00" font-family='"Liberation Sans", sans-serif' font-size="9.6" font-weight="bold" text-anchor="middle" fill="#111" style="" letter-spacing="-0.3">72</text>
<text x="465.30" y="558.60" font-family='"Liberation Sans", sans-serif' font-size="9.2" font-weight="normal" text-anchor="middle" fill="#111" style="" stroke="#1a1a1a" stroke-width="0.2"><tspan style="font-style:italic">B. safensis</tspan> M35</text>
<text x="611.60" y="558.60" font-family='"Liberation Sans", sans-serif' font-size="9.2" font-weight="normal" text-anchor="middle" fill="#111" style="" stroke="#1a1a1a" stroke-width="0.2"><tspan style="font-style:italic">B. altitudinis</tspan> J208</text>
<text x="537.90" y="572.60" font-family='"Liberation Sans", sans-serif' font-size="9.8" font-weight="bold" text-anchor="middle" fill="#111" style="" stroke="#111" stroke-width="0.12"><tspan style="font-style:italic">Bacillus</tspan> spp. grown on optimized production medium</text>
<g transform="translate(357.0,570.6) rotate(-90)">
<text x="0" y="0" font-family='"Liberation Sans", sans-serif' font-size="10.0" font-weight="bold" fill="#111">Ratio of Xylanasse units </text>
</g>
<g transform="translate(357.0,421.6) rotate(-90)">
<text x="0" y="0" font-family='"Liberation Sans", sans-serif' font-size="10.1" font-weight="bold" fill="#111">,</text>
</g>
<g transform="translate(357.0,417.0) rotate(-90)">
<text x="0" y="0" font-family='"Liberation Sans", sans-serif' font-size="9.9" font-weight="bold" fill="#111">pectinase units</text>
</g>
<rect x="347.8" y="426.4" width="11.7" height="22.6" rx="1.6" ry="1.6" fill="#b6bcf6" stroke="#2a2a3a" stroke-width="1.0"/>
<rect x="347.8" y="315.6" width="11.7" height="22.8" rx="1.6" ry="1.6" fill="url(#chk)" stroke="#2a2a2a" stroke-width="1.0"/>
<path d="M349.95,424.40 Q354.40,422.20 358.85,424.40" fill="none" stroke="#151515" stroke-width="1.2"/>
<path d="M349.60,449.70 Q354.20,453.10 358.80,449.70" fill="none" stroke="#151515" stroke-width="1.2"/>
<path d="M349.95,313.60 Q354.40,311.40 358.85,313.60" fill="none" stroke="#151515" stroke-width="1.2"/>
<path d="M350.00,338.80 Q354.20,342.00 358.40,338.80" fill="none" stroke="#151515" stroke-width="1.2"/>
<g transform="translate(368.7,559.8) rotate(-90)">
<text x="0" y="0" font-family='"Liberation Sans", sans-serif' font-size="10.1" font-weight="bold" fill="#111">and OD<tspan font-size="6.8" dy="2.4">600</tspan></text>
</g>
<path d="M362.00,510.20 Q366.70,513.00 371.40,510.20" fill="none" stroke="#151515" stroke-width="1.2"/>
<path d="M362.00,485.40 Q366.70,482.00 371.40,485.40" fill="none" stroke="#151515" stroke-width="1.2"/>
<line x1="366.20" y1="510.60" x2="366.20" y2="485.80" stroke="#ff1010" stroke-width="1.9" />
<rect x="364.4" y="496.2" width="3.6" height="3.6" fill="#000"/>
<g transform="translate(368.7,479.8) rotate(-90)">
<text x="0" y="0" font-family='"Liberation Sans", sans-serif' font-size="9.9" font-weight="bold" fill="#111">on Optimized medium v/s Glucose</text>
</g>
</svg></body></html>
